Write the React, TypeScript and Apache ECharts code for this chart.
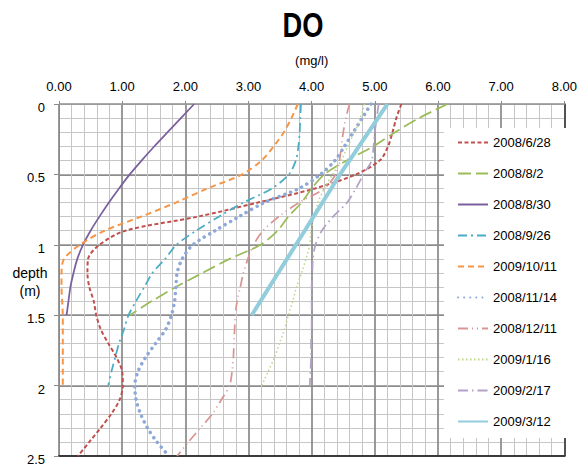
import React, { useEffect, useRef } from "react";
import * as echarts from "echarts";

const FONT = '"Liberation Sans", Arial, sans-serif';

const depth25 = [0, 0.1, 0.2, 0.3, 0.4, 0.5, 0.6, 0.7, 0.8, 0.9, 1.0, 1.1, 1.2, 1.3, 1.4, 1.5, 1.6, 1.7, 1.8, 1.9, 2.0, 2.1, 2.2, 2.3, 2.4, 2.5];
const depth20 = depth25.slice(0, 21);
const depth15 = depth25.slice(0, 16);

const seriesNames = [
  "2008/6/28", "2008/8/2", "2008/8/30", "2008/9/26", "2009/10/11",
  "2008/11/14", "2008/12/11", "2009/1/16", "2009/2/17", "2009/3/12",
];

const do20080628 = [5.42, 5.34, 5.28, 5.21, 5.08, 4.7, 4.05, 3.15, 2.2, 1.05, 0.64, 0.46, 0.45, 0.48, 0.55, 0.59, 0.66, 0.78, 0.91, 1.0, 1.01, 0.96, 0.83, 0.66, 0.48, 0.3];
const do20080802 = [6.15, 5.7, 5.32, 4.98, 4.56, 4.2, 4.0, 3.84, 3.63, 3.46, 3.19, 2.7, 2.27, 1.85, 1.47, 1.12];
const do20080830 = [2.14, 1.93, 1.72, 1.51, 1.31, 1.12, 0.95, 0.79, 0.64, 0.5, 0.38, 0.29, 0.23, 0.18, 0.15, 0.12];
const do20080926 = [3.83, 3.82, 3.81, 3.79, 3.75, 3.64, 3.37, 2.92, 2.53, 2.17, 1.86, 1.68, 1.48, 1.35, 1.22, 1.1, 1.03, 0.95, 0.89, 0.83, 0.78];
const do20091011 = [3.78, 3.68, 3.56, 3.4, 3.21, 2.9, 2.35, 1.85, 1.3, 0.72, 0.33, 0.08, 0.04, 0.04, 0.05, 0.06, 0.06, 0.06, 0.06, 0.06, 0.06];
const do20081114 = [4.94, 4.8, 4.66, 4.52, 4.37, 4.14, 3.8, 3.25, 2.85, 2.47, 2.12, 1.95, 1.87, 1.85, 1.83, 1.78, 1.69, 1.53, 1.37, 1.25, 1.2, 1.22, 1.29, 1.4, 1.55, 1.74];
const do20081211 = [4.6, 4.54, 4.5, 4.47, 4.44, 4.38, 4.2, 3.8, 3.48, 3.23, 3.08, 2.99, 2.92, 2.87, 2.82, 2.79, 2.78, 2.77, 2.76, 2.74, 2.7, 2.57, 2.43, 2.24, 2.05, 1.87];
const do20090116 = [4.84, 4.77, 4.68, 4.57, 4.47, 4.33, 4.2, 4.1, 4.04, 3.99, 3.97, 3.91, 3.84, 3.76, 3.7, 3.63, 3.57, 3.49, 3.41, 3.31, 3.21];
const do20090217 = [5.06, 5.03, 5.0, 4.98, 4.95, 4.82, 4.7, 4.56, 4.34, 4.16, 4.06, 4.02, 4.01, 4.0, 4.0, 4.0, 4.0, 3.99, 3.99, 3.98, 3.97];
const do20090312 = [5.2, 5.05, 4.9, 4.75, 4.6, 4.45, 4.31, 4.17, 4.03, 3.89, 3.75, 3.61, 3.47, 3.33, 3.19, 3.05];

const seriesValues = [do20080628, do20080802, do20080830, do20080926, do20091011, do20081114, do20081211, do20090116, do20090217, do20090312];
const seriesDepths = [depth25, depth15, depth15, depth20, depth20, depth25, depth25, depth20, depth20, depth15];

const xTicks = [0, 1, 2, 3, 4, 5, 6, 7, 8];

const styles: any[] = [
  { color: "#C0504D", width: 2, type: [4, 2.5] },
  { color: "#9BBB59", width: 1.75, type: [13, 5] },
  { color: "#7B5F9E", width: 1.75, type: "solid" },
  { color: "#4BACC6", width: 1.75, type: [9, 4, 2, 4] },
  { color: "#F79646", width: 2, type: [6, 4] },
  { color: "#8EA8D8", width: 3.5, type: [0.1, 6], cap: "round" },
  { color: "#D99694", width: 1.75, type: [10, 4, 1, 4, 1, 4] },
  { color: "#BCD68E", width: 1.5, type: [1.5, 2.5] },
  { color: "#B3A2C7", width: 1.75, type: [10, 4, 1.5, 4] },
  { color: "#92CDDC", width: 4, type: "solid" },
];

export default function App() {
  const ref = useRef<HTMLDivElement>(null);
  useEffect(() => {
    if (!ref.current) return;
    const chart = echarts.init(ref.current, undefined, { renderer: "svg" });
    const series = seriesNames.map((name, i) => ({
      name,
      type: "line",
      xAxisIndex: 0,
      yAxisIndex: 0,
      data: seriesValues[i].map((v, j) => [v, seriesDepths[i][j]]),
      symbol: "none",
      smooth: 0.3,
      lineStyle: styles[i],
      itemStyle: { color: styles[i].color },
      z: 3,
    }));
    chart.setOption({
      animation: false,
      textStyle: { fontFamily: FONT },
      grid: { left: 59, right: 12, top: 104, bottom: 2.5, containLabel: false },
      graphic: [
        {
          type: "text",
          x: 303,
          y: 25,
          scaleX: 0.78,
          style: { text: "DO", fontFamily: FONT, fontSize: 35, fontWeight: "bold", fill: "#000", align: "center", verticalAlign: "middle" },
        },
        {
          type: "text",
          x: 30,
          y: 282,
          style: { text: "depth\n(m)", fontFamily: FONT, fontSize: 14, lineHeight: 18, fill: "#000", align: "center", verticalAlign: "middle" },
        },
      ],
      legend: {
        orient: "vertical",
        left: 444,
        top: 128,
        padding: [8, 12, 10, 13],
        backgroundColor: "#ffffff",
        itemWidth: 30,
        itemHeight: 14,
        itemGap: 18,
        itemStyle: { opacity: 0 },
        data: seriesNames,
        textStyle: { fontFamily: FONT, fontSize: 13, color: "#000" },
      },
      xAxis: [
        {
          type: "value",
          position: "top",
          min: 0,
          max: 8,
          interval: 1,
          name: "(mg/l)",
          nameLocation: "middle",
          nameGap: 37,
          nameTextStyle: { fontFamily: FONT, fontSize: 13, color: "#000" },
          axisLine: { show: true, lineStyle: { color: "#9A9A9A", width: 1 } },
          axisTick: { show: true, length: 3, lineStyle: { color: "#8A8A8A" } },
          axisLabel: { margin: 11, fontFamily: FONT, fontSize: 13, color: "#000", formatter: (v: number) => (xTicks.includes(v) ? v.toFixed(2) : "") },
          splitLine: { show: true, lineStyle: { color: "#8C8C8C", width: 1.75 } },
          minorTick: { show: false, splitNumber: 5 },
          minorSplitLine: { show: true, lineStyle: { color: "#C6C6C6", width: 1 } },
        },
        {
          type: "value",
          position: "bottom",
          min: 0,
          max: 8,
          axisLine: { show: true, onZero: false, lineStyle: { color: "#3A3A3A", width: 2 } },
          axisTick: { show: false },
          axisLabel: { show: false },
          splitLine: { show: false },
        },
      ],
      yAxis: [
        {
          type: "value",
          inverse: true,
          min: 0,
          max: 2.5,
          interval: 0.5,
          axisLine: { show: true, lineStyle: { color: "#8A8A8A", width: 1 } },
          axisTick: { show: true, length: 5, lineStyle: { color: "#8A8A8A" } },
          axisLabel: {
            margin: 14,
            formatter: (v: number) => `{a|${v}}`,
            rich: { a: { padding: [7, 0, 0, 0], fontFamily: FONT, fontSize: 13, color: "#000" } },
          },
          splitLine: { show: true, lineStyle: { color: "#8C8C8C", width: 1.75 } },
          minorTick: { show: false, splitNumber: 5 },
          minorSplitLine: { show: true, lineStyle: { color: "#C6C6C6", width: 1 } },
        },
        {
          type: "value",
          position: "right",
          inverse: true,
          min: 0,
          max: 2.5,
          axisLine: { show: true, onZero: false, lineStyle: { color: "#3A3A3A", width: 1.5 } },
          axisTick: { show: false },
          axisLabel: { show: false },
          splitLine: { show: false },
        },
      ],
      series,
    });
    return () => chart.dispose();
  }, []);
  return <div ref={ref} style={{ position: "absolute", left: 0, top: 0, width: 580, height: 466, background: "#fff" }} />;
}
